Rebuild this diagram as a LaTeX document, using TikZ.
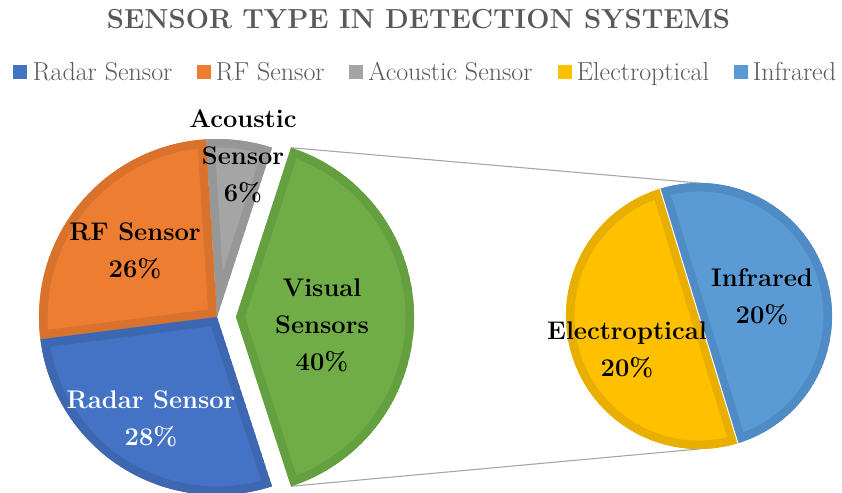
\documentclass[tikz,border=0pt]{standalone}
\usepackage{xcolor}
\usepackage{tikz}
\usetikzlibrary{positioning}
\usetikzlibrary{calc}
\definecolor{radarblue}{HTML}{4472C4}
\definecolor{radarband}{HTML}{3E67B1}
\definecolor{rforange}{HTML}{ED7D31}
\definecolor{rfband}{HTML}{D9722C}
\definecolor{acugray}{HTML}{A5A5A5}
\definecolor{acuband}{HTML}{979797}
\definecolor{visgreen}{HTML}{70AD47}
\definecolor{visband}{HTML}{64A03F}
\definecolor{eogold}{HTML}{FFC000}
\definecolor{eoband}{HTML}{E8AF00}
\definecolor{irblue}{HTML}{5B9BD5}
\definecolor{irband}{HTML}{4F8BC4}
\definecolor{titlegray}{HTML}{595959}
\definecolor{linkgray}{HTML}{A6A6A6}
\tikzstyle{legsq} = [minimum size=14pt, inner sep=0pt]
\tikzstyle{legtxt} = [font=\fontsize{26}{30}\selectfont, text=titlegray,
inner sep=0pt, text height=22pt, text depth=5pt]
\tikzstyle{lbl} = [font=\fontsize{25.5}{37}\selectfont\bfseries, align=center,
inner sep=0pt]
\tikzstyle{link} = [draw=linkgray, line width=1.1pt]
%% slice: centre, radius, start, end, fill, band
\newcommand{\drawslice}[6]{%
  \begin{scope}
    \clip (#1) -- ++(#3:#2) arc[start angle=#3, end angle=#4, radius=#2] -- cycle;
    \fill[#5] (#1) -- ++(#3:#2) arc[start angle=#3, end angle=#4, radius=#2] -- cycle;
    \draw[#6, line width=17pt, line join=round]
      (#1) -- ++(#3:#2) arc[start angle=#3, end angle=#4, radius=#2] -- cycle;
  \end{scope}}

\begin{document}
\begin{tikzpicture}[x=1pt, y=1pt]
    \useasboundingbox (0,0) rectangle (842,492);
    %% Title
    \node [font=\fontsize{27.5}{32}\selectfont\bfseries, text=titlegray, anchor=base]
      at (418.5,463) (title) {SENSOR TYPE IN DETECTION SYSTEMS};
    %% Legend
    \node [legsq, fill=radarblue] at (19.5,420) (sqRadar) {};
    \node [legtxt, right=6pt of sqRadar] (txRadar) {Radar Sensor};
    \node [legsq, fill=rforange] at (203.5,420) (sqRF) {};
    \node [legtxt, right=5pt of sqRF] (txRF) {RF Sensor};
    \node [legsq, fill=acugray] at (356,420) (sqAcoustic) {};
    \node [legtxt, right=5pt of sqAcoustic] (txAcoustic) {Acoustic Sensor};
    \node [legsq, fill=eogold] at (564.5,420) (sqEO) {};
    \node [legtxt, right=5pt of sqEO] (txEO) {Electroptical};
    \node [legsq, fill=irblue] at (740.5,420) (sqIR) {};
    \node [legtxt, right=5pt of sqIR] (txIR) {Infrared};
    %% Centres and tips
    \coordinate (C) at (217,175);
    \coordinate (V) at (236,175);
    \coordinate (D) at (699,176);
    \coordinate (Vtop) at ($(V)+(72:178)$);
    \coordinate (Vbot) at ($(V)+(-72:178)$);
    \coordinate (Dtop) at ($(D)+(90:133)$);
    \coordinate (Dbot) at ($(D)+(-90:133)$);
    %% Secondary pie
    \drawslice{D}{133}{107}{287}{eogold}{eoband}
    \drawslice{D}{133}{-73}{107}{irblue}{irband}
    \draw [white, line width=1pt] ($(D)+(107:133)$) -- ($(D)+(287:133)$);
    %% Connectors
    \path [link] (Vtop) -- (Dtop);
    \path [link] (Vbot) -- (Dbot);
    %% Main pie
    \drawslice{C}{178}{72}{93.6}{acugray}{acuband}
    \drawslice{C}{178}{93.6}{187.2}{rforange}{rfband}
    \drawslice{C}{178}{187.2}{288}{radarblue}{radarband}
    \drawslice{V}{178}{-72}{72}{visgreen}{visband}
    %% Labels
    \node [lbl] at (243,336) (lAcoustic) {Acoustic\\Sensor\\6\%};
    \node [lbl] at (135,241) (lRF) {RF Sensor\\26\%};
    \node [lbl] at (322,167) (lVisual) {Visual\\Sensors\\40\%};
    \node [lbl, text=white] at (151,73) (lRadar) {Radar Sensor\\28\%};
    \node [lbl] at (762,195) (lIR) {Infrared\\20\%};
    \node [lbl] at (627,142) (lEO) {Electroptical\\20\%};
\end{tikzpicture}
\end{document}
